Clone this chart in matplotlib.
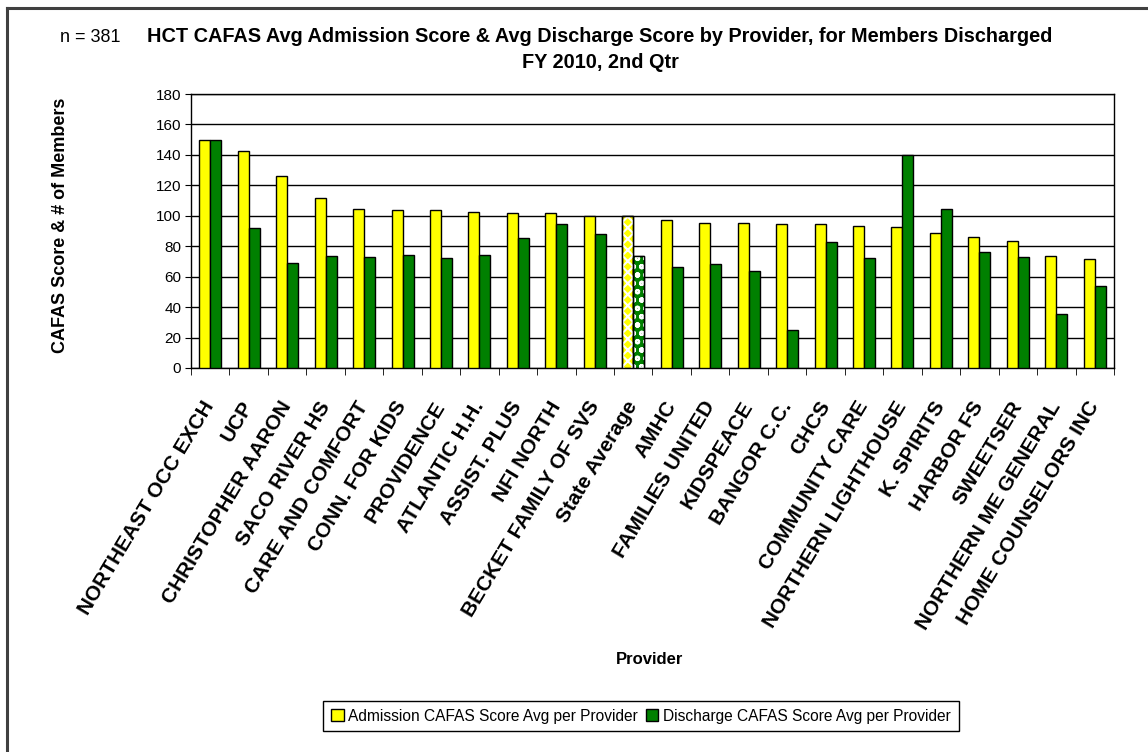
import matplotlib
matplotlib.use('Agg')
import matplotlib.pyplot as plt
import numpy as np
from matplotlib.lines import Line2D
from matplotlib.patches import Patch

# Provider names and average CAFAS scores
providers = ["NORTHEAST OCC EXCH", "UCP", "CHRISTOPHER AARON", "SACO RIVER HS",
             "CARE AND COMFORT", "CONN. FOR KIDS", "PROVIDENCE", "ATLANTIC H.H.",
             "ASSIST. PLUS", "NFI NORTH", "BECKET FAMILY OF SVS", "State Average",
             "AMHC", "FAMILIES UNITED", "KIDSPEACE", "BANGOR C.C.", "CHCS",
             "COMMUNITY CARE", "NORTHERN LIGHTHOUSE", "K. SPIRITS", "HARBOR FS",
             "SWEETSER", "NORTHERN ME GENERAL", "HOME COUNSELORS INC"]
admission = [150, 142.5, 126, 111.7, 104.5, 103.6, 103.6, 102.7, 101.6, 101.8,
             99.9, 100, 97.2, 95.5, 95.5, 94.4, 94.4, 93.5, 92.9, 88.9, 86.3,
             83.7, 73.6, 71.9]
discharge = [150, 91.8, 69.3, 73.9, 73, 74, 72.1, 74, 85.6, 94.4, 88.3, 73.6,
             66.6, 68.4, 63.8, 24.9, 82.8, 72.1, 139.9, 104.5, 76.5, 73, 35.8, 54]
yticks = [0, 20, 40, 60, 80, 100, 120, 140, 160, 180]
state_label = "State Average"

title = "HCT CAFAS Avg Admission Score & Avg Discharge Score by Provider, for Members Discharged\nFY 2010, 2nd Qtr"
n_text = "n = 381"
adm_name = "Admission CAFAS Score Avg per Provider"
dis_name = "Discharge CAFAS Score Avg per Provider"

YELLOW = '#FFFF00'
GREEN = '#008000'

plt.rcParams['font.family'] = ['Liberation Sans', 'DejaVu Sans']
plt.rcParams['hatch.linewidth'] = 1.5

W, H = 1148, 752
fig = plt.figure(figsize=(W / 100, H / 100), dpi=100)

# outer chart frame (top and left edge visible)
fig.add_artist(Line2D([7 / W, 1.0], [1 - 8 / H, 1 - 8 / H], color='#404040', lw=2.2,
                      transform=fig.transFigure))
fig.add_artist(Line2D([7 / W, 7 / W], [0, 1 - 8 / H], color='#404040', lw=2.2,
                      transform=fig.transFigure))

ax = fig.add_axes([191 / W, 1 - 368 / H, (1114 - 191) / W, (368 - 94) / H])

x = np.arange(len(providers))
w = 1 / 3.5
ax.bar(x - w / 2, admission, w, color=YELLOW, edgecolor='black', lw=1, zorder=3)
ax.bar(x + w / 2, discharge, w, color=GREEN, edgecolor='black', lw=1, zorder=3)

# patterned State Average bars
si = providers.index(state_label)
ax.bar(si - w / 2, admission[si], w, fill=False, hatch='xxx', edgecolor='white', lw=0, zorder=4)
ax.bar(si + w / 2, discharge[si], w, fill=False, hatch='oo', edgecolor='white', lw=0, zorder=4)
ax.bar(si - w / 2, admission[si], w, fill=False, edgecolor='black', lw=1, zorder=5)
ax.bar(si + w / 2, discharge[si], w, fill=False, edgecolor='black', lw=1, zorder=5)

ax.set_xlim(-0.5, len(providers) - 0.5)
ax.set_ylim(0, 180)
ax.set_yticks(yticks)
ax.tick_params(axis='y', labelsize=11, length=4, direction='out', pad=3)
ax.yaxis.grid(True, color='black', lw=1)
ax.set_axisbelow(True)

# ticks between categories, labels at the centres
ax.set_xticks(np.arange(len(providers) + 1) - 0.5, minor=True)
ax.tick_params(axis='x', which='minor', length=5, direction='out')
ax.set_xticks(x)
ax.set_xticklabels(providers, rotation=59, ha='right', va='center',
                   rotation_mode='anchor', fontsize=15, fontweight='bold')
ax.tick_params(axis='x', which='major', length=0, pad=25)
for s in ax.spines.values():
    s.set_color('black')
    s.set_linewidth(1)

ax.set_ylabel('CAFAS Score & # of Members', fontsize=13, fontweight='bold')
ax.yaxis.set_label_coords((69 - 191) / (1114 - 191), 0.52)

fig.text(650 / W, 1 - 660 / H, 'Provider', ha='center', va='center',
         fontsize=12, fontweight='bold')

fig.text(600 / W, 1 - 49.5 / H, title, ha='center', va='center', fontsize=14.3,
         fontweight='bold', linespacing=1.4)
fig.text(60 / W, 1 - 37 / H, n_text, ha='left', va='center', fontsize=13)

handles = [Patch(facecolor=YELLOW, edgecolor='black', lw=1),
           Patch(facecolor=GREEN, edgecolor='black', lw=1)]
leg = fig.legend(handles, [adm_name, dis_name], loc='center', ncol=2,
                 bbox_to_anchor=(641 / W, 1 - 716 / H), frameon=True, fancybox=False,
                 framealpha=1, edgecolor='black', handlelength=0.8, handleheight=0.8,
                 handletextpad=0.3, columnspacing=0.5, borderpad=0.5,
                 prop={'size': 11.2})
leg.get_frame().set_linewidth(1)

fig.savefig('out.png', dpi=100)
